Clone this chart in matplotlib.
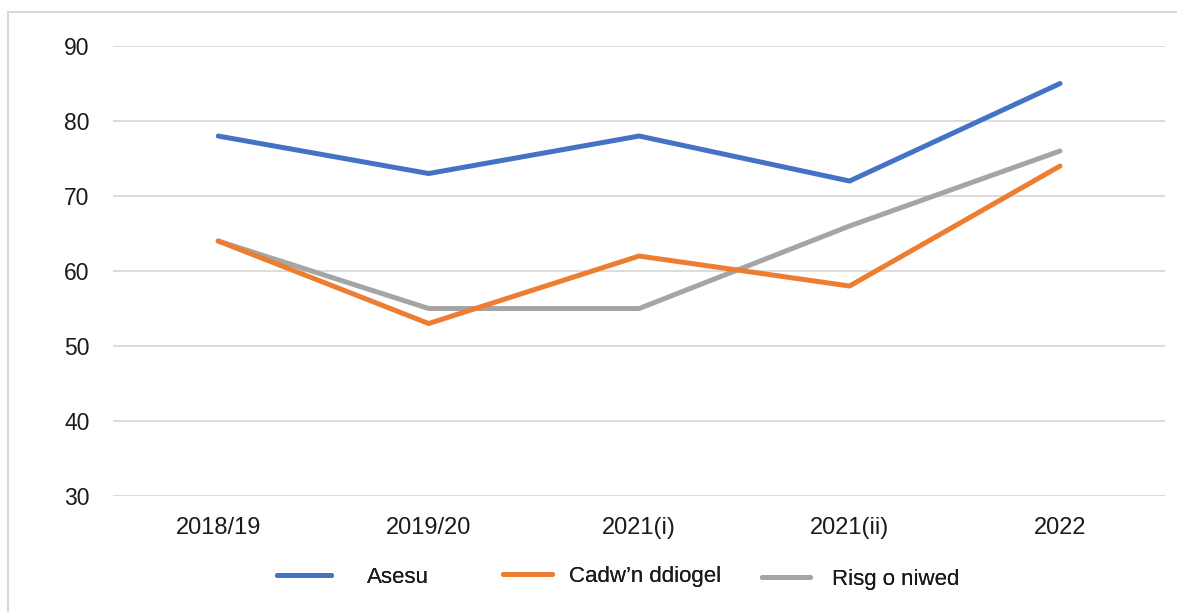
import numpy as np
import matplotlib.pyplot as plt
from matplotlib.patches import Rectangle

plt.rcParams['font.family'] = ['Liberation Sans', 'DejaVu Sans']

categories = ['2018/19', '2019/20', '2021(i)', '2021(ii)', '2022']
asesu = [78, 73, 78, 72, 85]
cadwn_ddiogel = [64, 53, 62, 58, 74]
risg_o_niwed = [64, 55, 55, 66, 76]

series_names = ['Asesu', 'Cadw\u2019n ddiogel', 'Risg o niwed']
colors = ['#4472C4', '#ED7D31', '#A5A5A5']

fig = plt.figure(figsize=(11.77, 6.12), dpi=100)
ax = fig.add_axes([0.096, 0.1895, 0.894, 0.7353])

x = np.arange(len(categories))
lines = []
for vals, name, c, z in [(asesu, series_names[0], colors[0], 4),
                         (cadwn_ddiogel, series_names[1], colors[1], 3),
                         (risg_o_niwed, series_names[2], colors[2], 2)]:
    ln, = ax.plot(x, vals, color=c, lw=3.6, solid_capstyle='round', label=name, zorder=z)
    lines.append(ln)

ax.set_xlim(-0.5, len(categories) - 0.5)
ax.set_ylim(30, 90)
ax.set_yticks(np.arange(30, 91, 10))
ax.set_xticks(x)
ax.set_xticklabels(categories)
ax.grid(axis='y', color='#D9D9D9', lw=1.3)
ax.set_axisbelow(True)
for s in ax.spines.values():
    s.set_visible(False)
ax.tick_params(axis='both', length=0, colors='#1a1a1a')
ax.tick_params(axis='y', labelsize=16.5, pad=17)
ax.tick_params(axis='x', labelsize=17, pad=15)

# legend entries, placed one by one as in the original layout
leg_pos = [(0.2353, 0.057), (0.4274, 0.058), (0.6474, 0.053)]
pads = [1.6, 0.75, 1.0]
hlens = [2.45, 2.2, 2.15]
for ln, pos, p, hl in zip(lines, leg_pos, pads, hlens):
    lg = fig.legend(handles=[ln], loc='center left', bbox_to_anchor=pos,
                    frameon=False, fontsize=16, handlelength=hl,
                    handletextpad=p, borderpad=0, borderaxespad=0,
                    labelcolor='#1a1a1a')
    fig.add_artist(lg)

# outer chart frame (cropped on the right and bottom)
fig.add_artist(Rectangle((8 / 1177, -0.1), 1.2, 1.1 - 12 / 612,
                         transform=fig.transFigure, fill=False,
                         edgecolor='#D9D9D9', lw=1.5))

fig.savefig('out.png', dpi=100)
